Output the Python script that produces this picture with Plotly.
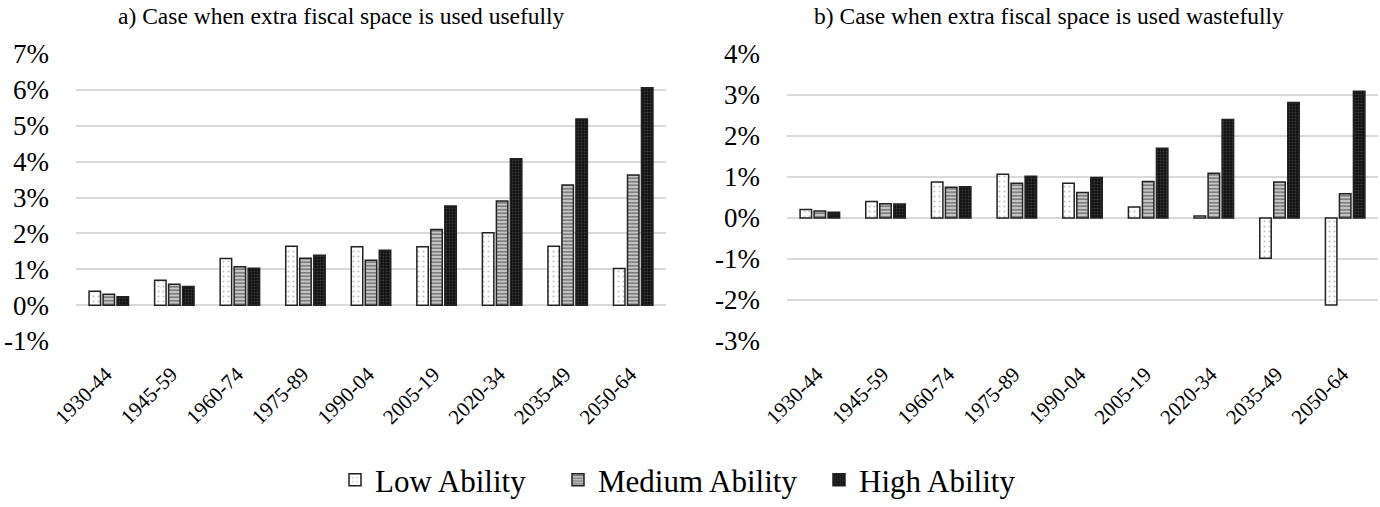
import plotly.graph_objects as go

categories = ["1930-44", "1945-59", "1960-74", "1975-89", "1990-04",
              "2005-19", "2020-34", "2035-49", "2050-64"]

# Panel a) extra fiscal space used usefully (%)
useful_low = [0.39, 0.69, 1.30, 1.64, 1.63, 1.63, 2.02, 1.64, 1.02]
useful_med = [0.30, 0.58, 1.07, 1.31, 1.25, 2.11, 2.90, 3.35, 3.63]
useful_high = [0.23, 0.52, 1.03, 1.39, 1.53, 2.76, 4.08, 5.19, 6.06]

# Panel b) extra fiscal space used wastefully (%)
waste_low = [0.21, 0.40, 0.88, 1.07, 0.85, 0.27, 0.05, -0.98, -2.12]
waste_med = [0.17, 0.35, 0.75, 0.85, 0.62, 0.89, 1.09, 0.88, 0.59]
waste_high = [0.14, 0.34, 0.76, 1.02, 0.99, 1.70, 2.40, 2.82, 3.09]

series_names = ["Low Ability", "Medium Ability", "High Ability"]
left_ticks = [-1, 0, 1, 2, 3, 4, 5, 6, 7]
right_ticks = [-3, -2, -1, 0, 1, 2, 3, 4]

FONT = "Liberation Serif"
H = 507.0
W = 1380.0

patterns = [
    dict(shape=".", bgcolor="white", fgcolor="#888888", size=5, solidity=0.15),
    dict(shape="-", bgcolor="#c8c8c8", fgcolor="#222222", size=3.5, solidity=0.45),
    dict(shape=".", bgcolor="#111111", fgcolor="#666666", size=3, solidity=0.3),
]
legend_ids = ["legend", "legend2", "legend3"]
legend_x = [349, 575, 836]

fig = go.Figure()
panels = [
    ("x", "y", [useful_low, useful_med, useful_high], True),
    ("x2", "y2", [waste_low, waste_med, waste_high], False),
]
for xa, ya, vals, show in panels:
    for i, (name, v) in enumerate(zip(series_names, vals)):
        fig.add_trace(go.Bar(
            x=categories, y=v, name=name,
            xaxis=xa, yaxis=ya, showlegend=show, legendgroup=name,
            legend=legend_ids[i],
            marker=dict(color=patterns[i]["bgcolor"], pattern=patterns[i],
                        line=dict(color="#222222", width=1.5)),
        ))

ydom = [1 - 341 / H, 1 - 54 / H]
axis_common = dict(type="category", showgrid=False, showline=False, ticks="",
                   automargin=False, tickangle=-45, ticklabelstandoff=16,
                   ticklabelshift=-3,
                   tickfont=dict(family=FONT, size=21, color="black"))
yaxis_common = dict(showgrid=True, gridcolor="#d9d9d9", gridwidth=1.5,
                    zeroline=False, showline=False, ticks="", automargin=False,
                    ticklabelstandoff=26,
                    tickfont=dict(family=FONT, size=27, color="black"), domain=ydom)


def labels(ts):
    return [f"{t}%" for t in ts]


legend_style = dict(orientation="h", y=0, yanchor="bottom",
                    xanchor="left", bgcolor="rgba(0,0,0,0)",
                    font=dict(family=FONT, size=31, color="black"))

fig.update_layout(
    width=1380, height=507,
    margin=dict(l=0, r=0, t=0, b=0),
    paper_bgcolor="white", plot_bgcolor="white",
    barmode="group", bargap=0.36, bargroupgap=0.18,
    font=dict(family=FONT, color="black"),
    xaxis=dict(domain=[76 / W, 666 / W], **axis_common),
    xaxis2=dict(domain=[787 / W, 1378 / W], **axis_common),
    yaxis=dict(range=[-1, 7], tickvals=left_ticks, ticktext=labels(left_ticks),
               anchor="x", **yaxis_common),
    yaxis2=dict(range=[-3, 4], tickvals=right_ticks, ticktext=labels(right_ticks),
                anchor="x2", **yaxis_common),
    legend=dict(x=(legend_x[0] - 14) / W, **legend_style),
    legend2=dict(x=(legend_x[1] - 17) / W, **legend_style),
    legend3=dict(x=(legend_x[2] - 17) / W, **legend_style),
    annotations=[
        dict(text="a) Case when extra fiscal space is used usefully",
             x=341 / W, y=1 - 16 / H, xref="paper", yref="paper",
             xanchor="center", yanchor="middle", showarrow=False,
             font=dict(family=FONT, size=23.5, color="black")),
        dict(text="b) Case when extra fiscal space is used wastefully",
             x=1049 / W, y=1 - 16 / H, xref="paper", yref="paper",
             xanchor="center", yanchor="middle", showarrow=False,
             font=dict(family=FONT, size=23.5, color="black")),
    ],
)

fig.write_html("out.html", config={"displayModeBar": False},
               post_script="document.body.style.margin='0';")
